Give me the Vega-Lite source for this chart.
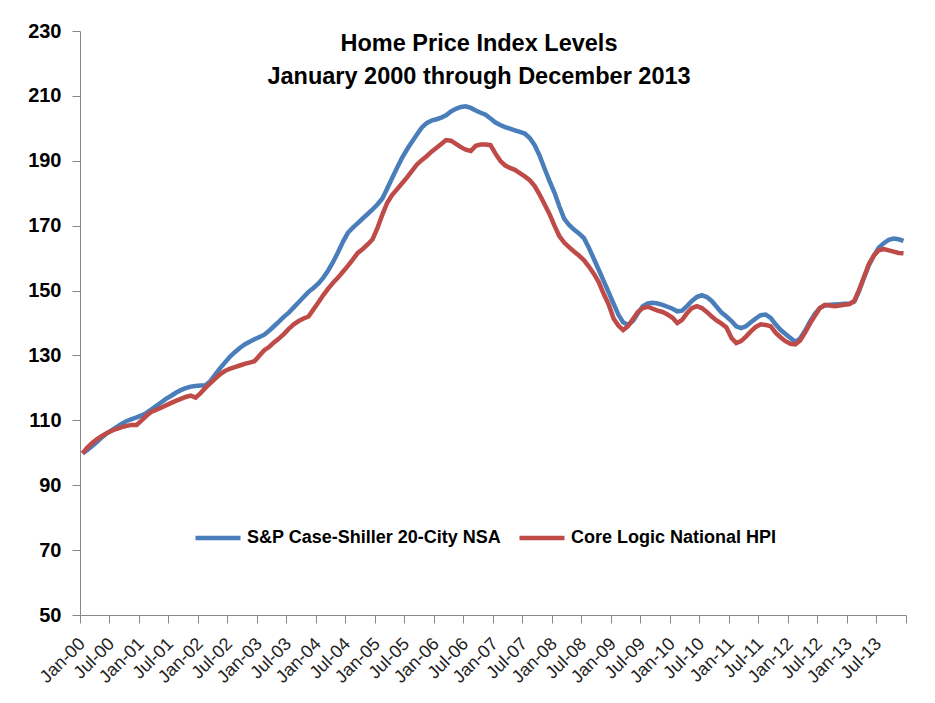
{
  "$schema": "https://vega.github.io/schema/vega-lite/v6.json",
  "width": 826,
  "height": 584,
  "autosize": {"type": "none"},
  "padding": {"left": 80, "top": 31, "right": 29, "bottom": 88},
  "background": "white",
  "title": {
    "text": ["Home Price Index Levels", "January 2000 through December 2013"],
    "orient": "top",
    "anchor": "middle",
    "offset": -67,
    "dx": -14,
    "font": "Liberation Sans",
    "fontSize": 23.5,
    "fontWeight": "bold",
    "lineHeight": 33,
    "color": "black"
  },
  "data": {
    "values": [
      {"m":"2000-01","CS":99.8,"CL":99.8},{"m":"2000-02","CS":100.9,"CL":101.6},{"m":"2000-03","CS":102.1,"CL":103.0},{"m":"2000-04","CS":103.4,"CL":104.2},{"m":"2000-05","CS":104.8,"CL":105.2},{"m":"2000-06","CS":106.0,"CL":106.1},{"m":"2000-07","CS":107.0,"CL":106.8},{"m":"2000-08","CS":108.0,"CL":107.4},{"m":"2000-09","CS":109.0,"CL":107.9},{"m":"2000-10","CS":109.8,"CL":108.3},{"m":"2000-11","CS":110.4,"CL":108.6},{"m":"2000-12","CS":110.9,"CL":108.6},
      {"m":"2001-01","CS":111.5,"CL":110.0},{"m":"2001-02","CS":112.3,"CL":111.4},{"m":"2001-03","CS":113.3,"CL":112.6},{"m":"2001-04","CS":114.4,"CL":113.2},{"m":"2001-05","CS":115.5,"CL":113.9},{"m":"2001-06","CS":116.6,"CL":114.6},{"m":"2001-07","CS":117.5,"CL":115.3},{"m":"2001-08","CS":118.5,"CL":116.0},{"m":"2001-09","CS":119.3,"CL":116.6},{"m":"2001-10","CS":119.9,"CL":117.2},{"m":"2001-11","CS":120.4,"CL":117.6},{"m":"2001-12","CS":120.6,"CL":117.0},
      {"m":"2002-01","CS":120.7,"CL":118.4},{"m":"2002-02","CS":120.8,"CL":120.0},{"m":"2002-03","CS":122.0,"CL":121.4},{"m":"2002-04","CS":124.0,"CL":122.8},{"m":"2002-05","CS":126.0,"CL":124.2},{"m":"2002-06","CS":127.8,"CL":125.2},{"m":"2002-07","CS":129.6,"CL":125.9},{"m":"2002-08","CS":131.0,"CL":126.4},{"m":"2002-09","CS":132.3,"CL":126.9},{"m":"2002-10","CS":133.4,"CL":127.4},{"m":"2002-11","CS":134.2,"CL":127.8},{"m":"2002-12","CS":135.0,"CL":128.2},
      {"m":"2003-01","CS":135.7,"CL":130.0},{"m":"2003-02","CS":136.4,"CL":131.6},{"m":"2003-03","CS":137.6,"CL":132.6},{"m":"2003-04","CS":139.0,"CL":134.0},{"m":"2003-05","CS":140.4,"CL":135.2},{"m":"2003-06","CS":141.9,"CL":136.6},{"m":"2003-07","CS":143.2,"CL":138.2},{"m":"2003-08","CS":144.8,"CL":139.6},{"m":"2003-09","CS":146.4,"CL":140.6},{"m":"2003-10","CS":148.0,"CL":141.4},{"m":"2003-11","CS":149.6,"CL":142.0},{"m":"2003-12","CS":150.8,"CL":144.2},
      {"m":"2004-01","CS":152.2,"CL":146.4},{"m":"2004-02","CS":154.0,"CL":148.6},{"m":"2004-03","CS":156.2,"CL":150.6},{"m":"2004-04","CS":158.8,"CL":152.4},{"m":"2004-05","CS":161.8,"CL":154.0},{"m":"2004-06","CS":165.0,"CL":155.8},{"m":"2004-07","CS":167.8,"CL":157.6},{"m":"2004-08","CS":169.4,"CL":159.6},{"m":"2004-09","CS":170.8,"CL":161.6},{"m":"2004-10","CS":172.2,"CL":162.8},{"m":"2004-11","CS":173.6,"CL":164.2},{"m":"2004-12","CS":175.0,"CL":165.8},
      {"m":"2005-01","CS":176.6,"CL":169.4},{"m":"2005-02","CS":178.4,"CL":173.4},{"m":"2005-03","CS":181.4,"CL":177.0},{"m":"2005-04","CS":184.6,"CL":179.4},{"m":"2005-05","CS":187.8,"CL":181.2},{"m":"2005-06","CS":190.8,"CL":183.0},{"m":"2005-07","CS":193.4,"CL":184.8},{"m":"2005-08","CS":195.8,"CL":186.8},{"m":"2005-09","CS":198.0,"CL":188.8},{"m":"2005-10","CS":200.2,"CL":190.2},{"m":"2005-11","CS":201.6,"CL":191.4},{"m":"2005-12","CS":202.4,"CL":192.8},
      {"m":"2006-01","CS":202.8,"CL":194.0},{"m":"2006-02","CS":203.3,"CL":195.2},{"m":"2006-03","CS":204.0,"CL":196.4},{"m":"2006-04","CS":205.2,"CL":196.2},{"m":"2006-05","CS":206.0,"CL":195.2},{"m":"2006-06","CS":206.6,"CL":194.2},{"m":"2006-07","CS":206.8,"CL":193.4},{"m":"2006-08","CS":206.3,"CL":193.0},{"m":"2006-09","CS":205.5,"CL":194.6},{"m":"2006-10","CS":204.8,"CL":195.0},{"m":"2006-11","CS":204.2,"CL":195.0},{"m":"2006-12","CS":203.0,"CL":194.8},
      {"m":"2007-01","CS":201.8,"CL":192.2},{"m":"2007-02","CS":201.0,"CL":190.0},{"m":"2007-03","CS":200.4,"CL":188.6},{"m":"2007-04","CS":199.9,"CL":187.8},{"m":"2007-05","CS":199.4,"CL":187.2},{"m":"2007-06","CS":198.9,"CL":186.2},{"m":"2007-07","CS":198.4,"CL":185.2},{"m":"2007-08","CS":197.0,"CL":184.0},{"m":"2007-09","CS":194.8,"CL":182.2},{"m":"2007-10","CS":191.6,"CL":179.6},{"m":"2007-11","CS":187.6,"CL":176.6},{"m":"2007-12","CS":183.8,"CL":173.6},
      {"m":"2008-01","CS":180.2,"CL":170.0},{"m":"2008-02","CS":176.0,"CL":166.8},{"m":"2008-03","CS":172.2,"CL":164.8},{"m":"2008-04","CS":170.2,"CL":163.4},{"m":"2008-05","CS":168.8,"CL":162.0},{"m":"2008-06","CS":167.6,"CL":160.8},{"m":"2008-07","CS":166.2,"CL":159.4},{"m":"2008-08","CS":163.2,"CL":157.4},{"m":"2008-09","CS":159.8,"CL":155.2},{"m":"2008-10","CS":156.4,"CL":152.6},{"m":"2008-11","CS":153.0,"CL":149.0},{"m":"2008-12","CS":149.5,"CL":145.8},
      {"m":"2009-01","CS":146.0,"CL":141.4},{"m":"2009-02","CS":142.6,"CL":139.2},{"m":"2009-03","CS":140.2,"CL":137.8},{"m":"2009-04","CS":139.4,"CL":139.0},{"m":"2009-05","CS":140.6,"CL":141.2},{"m":"2009-06","CS":143.0,"CL":143.4},{"m":"2009-07","CS":145.2,"CL":144.6},{"m":"2009-08","CS":146.0,"CL":145.0},{"m":"2009-09","CS":146.2,"CL":144.4},{"m":"2009-10","CS":146.0,"CL":143.8},{"m":"2009-11","CS":145.6,"CL":143.4},{"m":"2009-12","CS":145.0,"CL":142.6},
      {"m":"2010-01","CS":144.4,"CL":141.6},{"m":"2010-02","CS":143.6,"CL":140.0},{"m":"2010-03","CS":143.8,"CL":141.0},{"m":"2010-04","CS":145.2,"CL":143.0},{"m":"2010-05","CS":146.8,"CL":144.6},{"m":"2010-06","CS":148.0,"CL":145.2},{"m":"2010-07","CS":148.6,"CL":144.6},{"m":"2010-08","CS":148.0,"CL":143.4},{"m":"2010-09","CS":146.8,"CL":142.0},{"m":"2010-10","CS":145.0,"CL":140.8},{"m":"2010-11","CS":143.2,"CL":139.8},{"m":"2010-12","CS":142.0,"CL":138.6},
      {"m":"2011-01","CS":140.6,"CL":135.4},{"m":"2011-02","CS":139.0,"CL":133.8},{"m":"2011-03","CS":138.4,"CL":134.4},{"m":"2011-04","CS":139.0,"CL":135.8},{"m":"2011-05","CS":140.2,"CL":137.4},{"m":"2011-06","CS":141.4,"CL":138.8},{"m":"2011-07","CS":142.4,"CL":139.6},{"m":"2011-08","CS":142.6,"CL":139.4},{"m":"2011-09","CS":141.6,"CL":139.0},{"m":"2011-10","CS":139.6,"CL":137.0},{"m":"2011-11","CS":137.9,"CL":135.6},{"m":"2011-12","CS":136.6,"CL":134.4},
      {"m":"2012-01","CS":135.4,"CL":133.6},{"m":"2012-02","CS":134.2,"CL":133.4},{"m":"2012-03","CS":135.2,"CL":134.6},{"m":"2012-04","CS":137.6,"CL":137.0},{"m":"2012-05","CS":140.4,"CL":139.8},{"m":"2012-06","CS":142.8,"CL":142.2},{"m":"2012-07","CS":144.6,"CL":144.6},{"m":"2012-08","CS":145.4,"CL":145.6},{"m":"2012-09","CS":145.6,"CL":145.4},{"m":"2012-10","CS":145.7,"CL":145.2},{"m":"2012-11","CS":145.8,"CL":145.4},{"m":"2012-12","CS":145.9,"CL":145.6},
      {"m":"2013-01","CS":146.0,"CL":145.8},{"m":"2013-02","CS":146.6,"CL":146.8},{"m":"2013-03","CS":149.8,"CL":150.2},{"m":"2013-04","CS":154.0,"CL":154.2},{"m":"2013-05","CS":157.8,"CL":158.2},{"m":"2013-06","CS":160.8,"CL":160.8},{"m":"2013-07","CS":163.2,"CL":162.4},{"m":"2013-08","CS":164.6,"CL":162.8},{"m":"2013-09","CS":165.6,"CL":162.4},{"m":"2013-10","CS":166.0,"CL":162.0},{"m":"2013-11","CS":165.8,"CL":161.6},{"m":"2013-12","CS":165.3,"CL":161.5}
    ]
  },
  "transform": [{"fold": ["CS", "CL"], "as": ["series", "value"]}],
  "mark": {"type": "line", "strokeWidth": 4.5},
  "encoding": {
    "x": {
      "field": "m",
      "type": "temporal",
      "timeUnit": "utcyearmonth",
      "bandPosition": 0.5,
      "scale": {
        "type": "utc",
        "domain": [
          {"year": 2000, "month": 1, "date": 1, "utc": true},
          {"year": 2014, "month": 1, "date": 1, "utc": true}
        ]
      },
      "axis": {
        "title": null,
        "grid": false,
        "tickCount": {"interval": "month", "step": 6},
        "format": "%b-%y",
        "labelExpr": "utcyear(datum.value) >= 2014 ? '' : datum.label",
        "labelAngle": -45,
        "labelAlign": "right",
        "labelBaseline": "middle",
        "labelFont": "Liberation Sans",
        "labelFontSize": 18,
        "labelColor": "#222222",
        "labelPadding": 18,
        "labelOffset": 2,
        "labelFlush": false,
        "labelOverlap": false,
        "domainColor": "#888888",
        "tickColor": "#888888",
        "tickSize": 8
      }
    },
    "y": {
      "field": "value",
      "type": "quantitative",
      "scale": {"domain": [50, 230], "nice": false, "zero": false},
      "axis": {
        "title": null,
        "grid": false,
        "values": [50, 70, 90, 110, 130, 150, 170, 190, 210, 230],
        "labelFont": "Liberation Sans",
        "labelFontSize": 20,
        "labelFontWeight": "bold",
        "labelColor": "black",
        "labelPadding": 11,
        "domainColor": "#888888",
        "tickColor": "#888888",
        "tickSize": 8
      }
    },
    "color": {
      "field": "series",
      "type": "nominal",
      "scale": {"domain": ["CS", "CL"], "range": ["#4A7EBB", "#BE4B48"]},
      "legend": {
        "orient": "none",
        "legendX": 113,
        "legendY": 482,
        "direction": "horizontal",
        "title": null,
        "symbolType": "stroke",
        "symbolSize": 2025,
        "symbolStrokeWidth": 4.5,
        "labelFont": "Liberation Sans",
        "labelFontSize": 18,
        "labelFontWeight": "bold",
        "labelColor": "black",
        "labelLimit": 400,
        "labelOffset": 4,
        "columnPadding": 8,
        "labelExpr": "datum.label == 'CS' ? 'S&P Case-Shiller 20-City NSA' : 'Core Logic National  HPI'"
      }
    }
  },
  "config": {"view": {"stroke": null}}
}
